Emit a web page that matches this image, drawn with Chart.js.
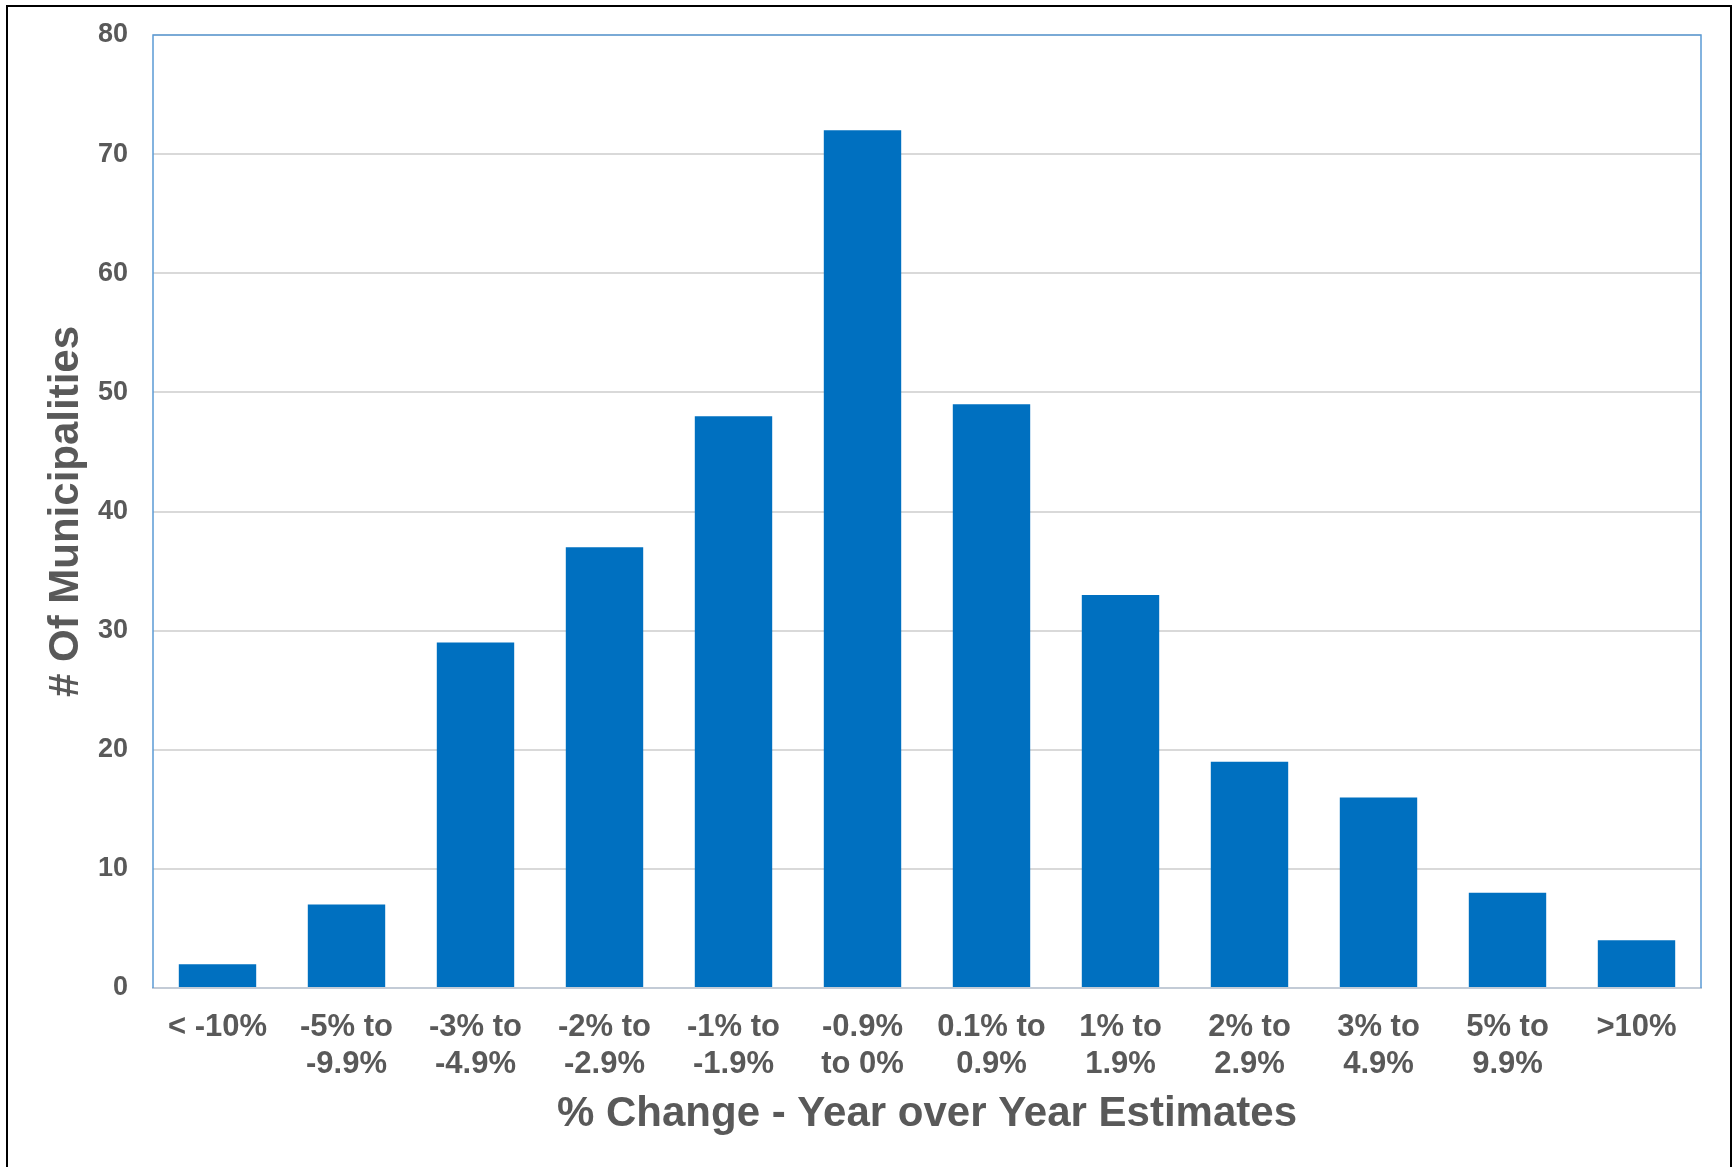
<!DOCTYPE html>
<html>
<head>
<meta charset="utf-8">
<script src="https://cdn.jsdelivr.net/npm/chart.js@4.4.1/dist/chart.umd.min.js"></script>
<style>
  html, body { margin: 0; padding: 0; background: #fff; }
  #wrap { position: relative; width: 1734px; height: 1167px; overflow: hidden; }
  #frame {
    position: absolute; left: 6px; top: 5px; width: 1722px; height: 1180px;
    border: 2px solid #000; border-bottom: none; pointer-events: none;
  }
  canvas { position: absolute; left: 0; top: 0; }
</style>
</head>
<body>
<div id="wrap">
  <canvas id="chart" width="1734" height="1167"></canvas>
  <div id="frame"></div>
</div>
<script>
const categories = [
  ['< -10%'],
  ['-5% to', '-9.9%'],
  ['-3% to', '-4.9%'],
  ['-2% to', '-2.9%'],
  ['-1% to', '-1.9%'],
  ['-0.9%', 'to 0%'],
  ['0.1% to', '0.9%'],
  ['1% to', '1.9%'],
  ['2% to', '2.9%'],
  ['3% to', '4.9%'],
  ['5% to', '9.9%'],
  ['>10%']
];
const municipalities = [2, 7, 29, 37, 48, 72, 49, 33, 19, 16, 8, 4];
const yTicks = [0, 10, 20, 30, 40, 50, 60, 70, 80];

const xTitle = '% Change - Year over Year Estimates';
const yTitle = '# Of Municipalities';

const textColor = '#595959';
const fontFamily = "'Liberation Sans', Arial, Helvetica, sans-serif";

// blue frame on top, left and right of the plot
const plotFrame = {
  id: 'plotFrame',
  afterDraw(chart) {
    const { ctx, chartArea: a } = chart;
    ctx.save();
    ctx.strokeStyle = '#5b9bd5';
    ctx.lineWidth = 1.5;
    ctx.beginPath();
    ctx.moveTo(a.left, a.bottom);
    ctx.lineTo(a.left, a.top);
    ctx.lineTo(a.right, a.top);
    ctx.lineTo(a.right, a.bottom);
    ctx.stroke();
    ctx.restore();
  }
};

const ctx = document.getElementById('chart').getContext('2d');
new Chart(ctx, {
  type: 'bar',
  data: {
    labels: categories,
    datasets: [{
      label: yTitle,
      data: municipalities,
      backgroundColor: '#0070C0',
      borderWidth: 0,
      barPercentage: 0.6,
      categoryPercentage: 1.0
    }]
  },
  options: {
    responsive: false,
    animation: false,
    layout: { padding: { left: 0, top: 35, right: 33, bottom: 0 } },
    plugins: {
      legend: { display: false },
      tooltip: { enabled: false }
    },
    scales: {
      x: {
        grid: { display: false, drawTicks: false },
        border: { display: true, color: '#c3cbd6', width: 2 },
        ticks: {
          color: textColor,
          font: { family: fontFamily, size: 31, weight: 'bold', lineHeight: 1.2 },
          padding: 21,
          maxRotation: 0,
          minRotation: 0,
          autoSkip: false
        },
        title: {
          display: true,
          text: xTitle,
          color: textColor,
          font: { family: fontFamily, size: 42, weight: 'bold', lineHeight: 1.2 },
          padding: { top: 0, bottom: 27 }
        },
        afterFit: s => { s.height = 1167 - 988; }
      },
      y: {
        min: 0,
        max: 80,
        afterBuildTicks: s => { s.ticks = yTicks.map(v => ({ value: v })); },
        grid: { color: '#d9d9d9', lineWidth: 2, drawTicks: false },
        border: { display: false },
        ticks: {
          color: textColor,
          font: { family: fontFamily, size: 27, weight: 'bold' },
          padding: 25
        },
        title: {
          display: true,
          text: yTitle,
          color: textColor,
          font: { family: fontFamily, size: 42, weight: 'bold', lineHeight: 1.2 },
          padding: { top: 41, bottom: 0 }
        },
        afterFit: s => {
          s.width = 153;
          s.paddingTop = 0;
          s.paddingBottom = 0;
        }
      }
    }
  },
  plugins: [plotFrame]
});
</script>
</body>
</html>
